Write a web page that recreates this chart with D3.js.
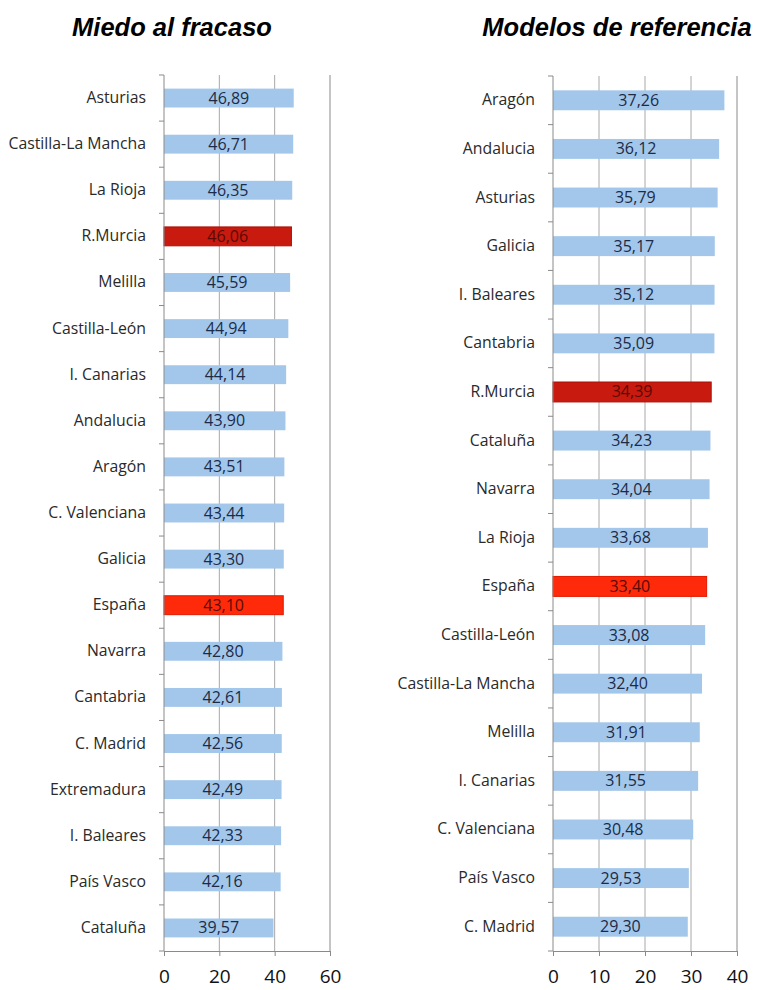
<!DOCTYPE html>
<html><head><meta charset="utf-8">
<script src="https://cdn.jsdelivr.net/npm/d3@7"></script>
<style>body{margin:0;background:#fff}svg{display:block}</style>
</head><body>
<svg id="c" width="757" height="990"></svg>
<script>
const leftTitle = "Miedo al fracaso";
const leftCategories = ["Asturias","Castilla-La Mancha","La Rioja","R.Murcia","Melilla","Castilla-León","I. Canarias","Andalucia","Aragón","C. Valenciana","Galicia","España","Navarra","Cantabria","C. Madrid","Extremadura","I. Baleares","País Vasco","Cataluña"];
const leftValues = [46.89,46.71,46.35,46.06,45.59,44.94,44.14,43.90,43.51,43.44,43.30,43.10,42.80,42.61,42.56,42.49,42.33,42.16,39.57];
const leftTicks = [0,20,40,60];

const rightTitle = "Modelos de referencia";
const rightCategories = ["Aragón","Andalucia","Asturias","Galicia","I. Baleares","Cantabria","R.Murcia","Cataluña","Navarra","La Rioja","España","Castilla-León","Castilla-La Mancha","Melilla","I. Canarias","C. Valenciana","País Vasco","C. Madrid"];
const rightValues = [37.26,36.12,35.79,35.17,35.12,35.09,34.39,34.23,34.04,33.68,33.40,33.08,32.40,31.91,31.55,30.48,29.53,29.30];
const rightTicks = [0,10,20,30,40];

const svg = d3.select("#c");
const fmt = v => v.toFixed(2).replace(".", ",");
const colorFor = c => c === "España" ? "#ff2a0a" : c === "R.Murcia" ? "#c81a0e" : "#a3c7ea";
const strokeFor = c => c === "España" ? "#e01800" : c === "R.Murcia" ? "#a8120a" : "none";
const FONT = "'Open Sans', Lato, sans-serif";

function panel(o) {
  const g = svg.append("g");
  const x = d3.scaleLinear().domain([0, o.max]).range([o.x0, o.x1]);
  const y = d3.scaleBand().domain(o.cats).range([o.y0, o.y1]).paddingInner(0.59).paddingOuter(0.295);
  const band = d3.scaleBand().domain(o.cats).range([o.y0, o.y1]);

  g.append("text").attr("x", o.tx).attr("y", 36).attr("text-anchor", "middle")
    .attr("font-family", "Liberation Sans, Arial, sans-serif").attr("font-weight", "bold")
    .attr("font-style", "italic").attr("font-size", 25.5).attr("fill", "#000").text(o.title);

  g.selectAll(".grid").data(o.ticks.slice(1)).join("line")
    .attr("x1", d => x(d)).attr("x2", d => x(d)).attr("y1", o.y0).attr("y2", o.y1)
    .attr("stroke", (d, i, a) => i === a.length - 1 ? "#8a8a8a" : "#a8a8a8").attr("stroke-width", 1);

  g.selectAll(".bar").data(o.cats).join("rect")
    .attr("x", x(0)).attr("y", d => y(d))
    .attr("width", (d, i) => x(o.vals[i]) - x(0)).attr("height", y.bandwidth())
    .attr("fill", d => colorFor(d)).attr("stroke", d => strokeFor(d)).attr("stroke-width", 1);

  g.selectAll(".val").data(o.cats).join("text")
    .attr("x", (d, i) => (x(0) + x(o.vals[i])) / 2).attr("y", d => y(d) + y.bandwidth() / 2 + 5.5)
    .attr("text-anchor", "middle").attr("font-family", FONT)
    .attr("font-size", 16).attr("fill", d => (d === "España" || d === "R.Murcia") ? "#5a0a05" : "#1c2b48")
    .text((d, i) => fmt(o.vals[i]));

  const yAxis = g.append("g").attr("transform", `translate(${x(0)},0)`);
  yAxis.append("line").attr("x1", 0).attr("x2", 0).attr("y1", o.y0).attr("y2", o.y1).attr("stroke", "#8a8a8a");
  const bounds = o.cats.map(c => band(c)).concat([o.y1]);
  yAxis.selectAll(".tk").data(bounds).join("line")
    .attr("x1", -5).attr("x2", 0).attr("y1", d => d).attr("y2", d => d).attr("stroke", "#8a8a8a");
  yAxis.selectAll(".lbl").data(o.cats).join("text")
    .attr("x", -18).attr("y", d => band(d) + band.bandwidth() / 2 + 5)
    .attr("text-anchor", "end").attr("font-family", FONT)
    .attr("font-size", 15.8).attr("fill", "#2a2a2a").text(d => d);

  const xAxis = g.append("g").attr("transform", `translate(0,${o.y1})`)
    .call(d3.axisBottom(x).tickValues(o.ticks).tickSize(5).tickPadding(14));
  xAxis.select(".domain").attr("stroke", "#8a8a8a");
  xAxis.selectAll(".tick line").attr("stroke", "#8a8a8a");
  xAxis.selectAll("text").attr("font-family", FONT)
    .attr("font-size", 19).attr("fill", "#111");
}

panel({title: leftTitle, tx: 172, cats: leftCategories, vals: leftValues, ticks: leftTicks, max: 60,
       x0: 164, x1: 330, y0: 75, y1: 951});
panel({title: rightTitle, tx: 617, cats: rightCategories, vals: rightValues, ticks: rightTicks, max: 40,
       x0: 553, x1: 737, y0: 76, y1: 951});
</script>
</body></html>
